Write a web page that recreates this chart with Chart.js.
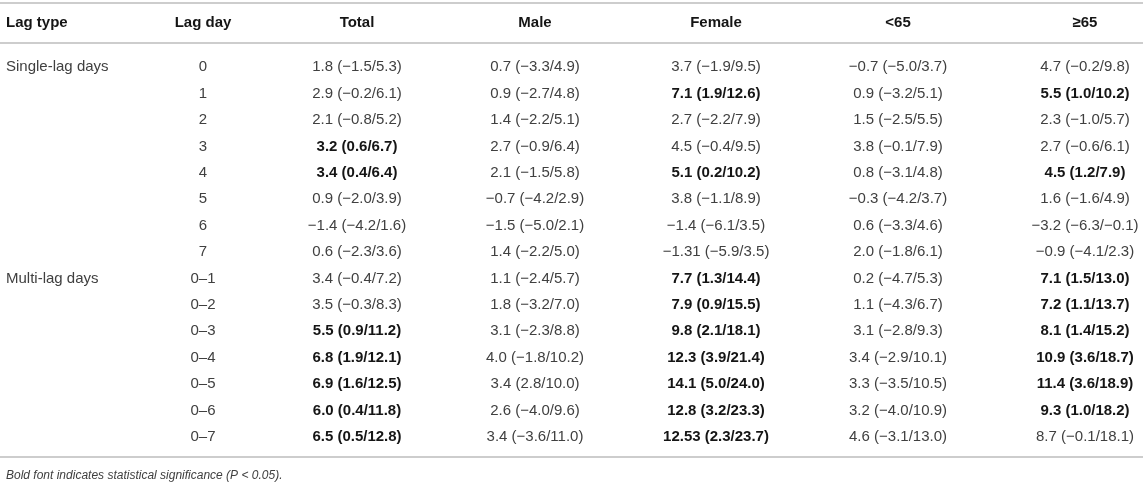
<!DOCTYPE html>
<html>
<head>
<meta charset="utf-8">
<title>Lag table</title>
<script src="https://cdn.jsdelivr.net/npm/chart.js@4.4.0/dist/chart.umd.min.js"></script>
<style>
  html, body { margin: 0; padding: 0; background: #fff; }
  #wrap { width: 1143px; height: 484px; position: relative; }
</style>
</head>
<body>
<div id="wrap"><canvas id="tableChart"></canvas></div>
<script>
// ------------------- DATA -------------------
const columns = ["Lag type", "Lag day", "Total", "Male", "Female", "<65", "\u226565"];

const lagDays = ["0", "1", "2", "3", "4", "5", "6", "7",
  "0\u20131", "0\u20132", "0\u20133", "0\u20134", "0\u20135", "0\u20136", "0\u20137"];

// lag type label and the row where it starts
const lagTypes = ["Single-lag days", "Multi-lag days"];
const lagTypeRows = ["0", "0\u20131"];

const total = [
  "1.8 (\u22121.5/5.3)", "2.9 (\u22120.2/6.1)", "2.1 (\u22120.8/5.2)", "3.2 (0.6/6.7)",
  "3.4 (0.4/6.4)", "0.9 (\u22122.0/3.9)", "\u22121.4 (\u22124.2/1.6)", "0.6 (\u22122.3/3.6)",
  "3.4 (\u22120.4/7.2)", "3.5 (\u22120.3/8.3)", "5.5 (0.9/11.2)", "6.8 (1.9/12.1)",
  "6.9 (1.6/12.5)", "6.0 (0.4/11.8)", "6.5 (0.5/12.8)"
];
const male = [
  "0.7 (\u22123.3/4.9)", "0.9 (\u22122.7/4.8)", "1.4 (\u22122.2/5.1)", "2.7 (\u22120.9/6.4)",
  "2.1 (\u22121.5/5.8)", "\u22120.7 (\u22124.2/2.9)", "\u22121.5 (\u22125.0/2.1)", "1.4 (\u22122.2/5.0)",
  "1.1 (\u22122.4/5.7)", "1.8 (\u22123.2/7.0)", "3.1 (\u22122.3/8.8)", "4.0 (\u22121.8/10.2)",
  "3.4 (2.8/10.0)", "2.6 (\u22124.0/9.6)", "3.4 (\u22123.6/11.0)"
];
const female = [
  "3.7 (\u22121.9/9.5)", "7.1 (1.9/12.6)", "2.7 (\u22122.2/7.9)", "4.5 (\u22120.4/9.5)",
  "5.1 (0.2/10.2)", "3.8 (\u22121.1/8.9)", "\u22121.4 (\u22126.1/3.5)", "\u22121.31 (\u22125.9/3.5)",
  "7.7 (1.3/14.4)", "7.9 (0.9/15.5)", "9.8 (2.1/18.1)", "12.3 (3.9/21.4)",
  "14.1 (5.0/24.0)", "12.8 (3.2/23.3)", "12.53 (2.3/23.7)"
];
const under65 = [
  "\u22120.7 (\u22125.0/3.7)", "0.9 (\u22123.2/5.1)", "1.5 (\u22122.5/5.5)", "3.8 (\u22120.1/7.9)",
  "0.8 (\u22123.1/4.8)", "\u22120.3 (\u22124.2/3.7)", "0.6 (\u22123.3/4.6)", "2.0 (\u22121.8/6.1)",
  "0.2 (\u22124.7/5.3)", "1.1 (\u22124.3/6.7)", "3.1 (\u22122.8/9.3)", "3.4 (\u22122.9/10.1)",
  "3.3 (\u22123.5/10.5)", "3.2 (\u22124.0/10.9)", "4.6 (\u22123.1/13.0)"
];
const over65 = [
  "4.7 (\u22120.2/9.8)", "5.5 (1.0/10.2)", "2.3 (\u22121.0/5.7)", "2.7 (\u22120.6/6.1)",
  "4.5 (1.2/7.9)", "1.6 (\u22121.6/4.9)", "\u22123.2 (\u22126.3/\u22120.1)", "\u22120.9 (\u22124.1/2.3)",
  "7.1 (1.5/13.0)", "7.2 (1.1/13.7)", "8.1 (1.4/15.2)", "10.9 (3.6/18.7)",
  "11.4 (3.6/18.9)", "9.3 (1.0/18.2)", "8.7 (\u22120.1/18.1)"
];

// significant (bold) rows per group
const totalSig = ["3", "4", "0\u20133", "0\u20134", "0\u20135", "0\u20136", "0\u20137"];
const maleSig = [];
const femaleSig = ["1", "4", "0\u20131", "0\u20132", "0\u20133", "0\u20134", "0\u20135", "0\u20136", "0\u20137"];
const under65Sig = [];
const over65Sig = ["1", "4", "0\u20131", "0\u20132", "0\u20133", "0\u20134", "0\u20135", "0\u20136"];

const footnote = "Bold font indicates statistical significance (P < 0.05).";

// ------------------- LAYOUT -------------------
// column anchor on the x scale (0..1143), alignment per column
const colAnchor = [6, 203, 357, 535, 716, 898, 1085];
const colAlign = ["left", "center", "center", "center", "center", "center", "center"];

const FONT = "'Liberation Sans', Arial, Helvetica, sans-serif";
const TEXT = "#404040";
const BOLD_TEXT = "#151515";
const RULE = "#bdbdbd";

function makeColumn(col, labels, rows, sig) {
  return {
    label: columns[col],
    // y as the row label so the category scale finds the right row
    data: rows.map(r => ({ x: colAnchor[col], y: r })),
    cellText: labels,
    cellBold: rows.map(r => sig.includes(r)),
    align: colAlign[col],
    pointRadius: 0,
    pointHoverRadius: 0,
    showLine: false
  };
}

const datasets = [
  makeColumn(0, lagTypes, lagTypeRows, []),
  makeColumn(1, lagDays, lagDays, []),
  makeColumn(2, total, lagDays, totalSig),
  makeColumn(3, male, lagDays, maleSig),
  makeColumn(4, female, lagDays, femaleSig),
  makeColumn(5, under65, lagDays, under65Sig),
  makeColumn(6, over65, lagDays, over65Sig)
];

// ------------------- TABLE PLUGIN -------------------
const tablePlugin = {
  id: "tableCells",
  afterDatasetsDraw(chart) {
    const { ctx, chartArea, scales } = chart;
    ctx.save();
    ctx.textBaseline = "middle";

    // rules
    ctx.strokeStyle = RULE;
    ctx.lineWidth = 1.5;
    [3, chartArea.top - 11, chartArea.bottom + 7].forEach(y => {
      ctx.beginPath();
      ctx.moveTo(0, y);
      ctx.lineTo(chart.width, y);
      ctx.stroke();
    });

    // header
    ctx.fillStyle = BOLD_TEXT;
    ctx.font = "bold 15px " + FONT;
    columns.forEach((c, i) => {
      ctx.textAlign = colAlign[i];
      ctx.fillText(c, scales.x.getPixelForValue(colAnchor[i]), chartArea.top - 31);
    });

    // cells
    chart.data.datasets.forEach((ds, di) => {
      const meta = chart.getDatasetMeta(di);
      ctx.textAlign = ds.align;
      meta.data.forEach((pt, j) => {
        const bold = ds.cellBold[j];
        ctx.font = (bold ? "bold " : "") + "15px " + FONT;
        ctx.fillStyle = bold ? BOLD_TEXT : TEXT;
        ctx.fillText(ds.cellText[j], pt.x, pt.y);
      });
    });

    // footnote
    ctx.textAlign = "left";
    ctx.font = "italic 12px " + FONT;
    ctx.fillStyle = TEXT;
    ctx.fillText(footnote, 6, chartArea.bottom + 26);
    ctx.restore();
  }
};

// ------------------- CHART -------------------
const chart = new Chart(document.getElementById("tableChart"), {
  type: "scatter",
  data: { datasets },
  options: {
    responsive: true,
    maintainAspectRatio: false,
    animation: false,
    layout: { padding: { top: 54, bottom: 34, left: 0, right: 0 } },
    scales: {
      x: { type: "linear", min: 0, max: 1143, display: false },
      y: { type: "category", labels: lagDays, offset: true, display: false }
    },
    plugins: {
      legend: { display: false },
      tooltip: { enabled: false }
    },
    events: []
  },
  plugins: [tablePlugin]
});
</script>
</body>
</html>
